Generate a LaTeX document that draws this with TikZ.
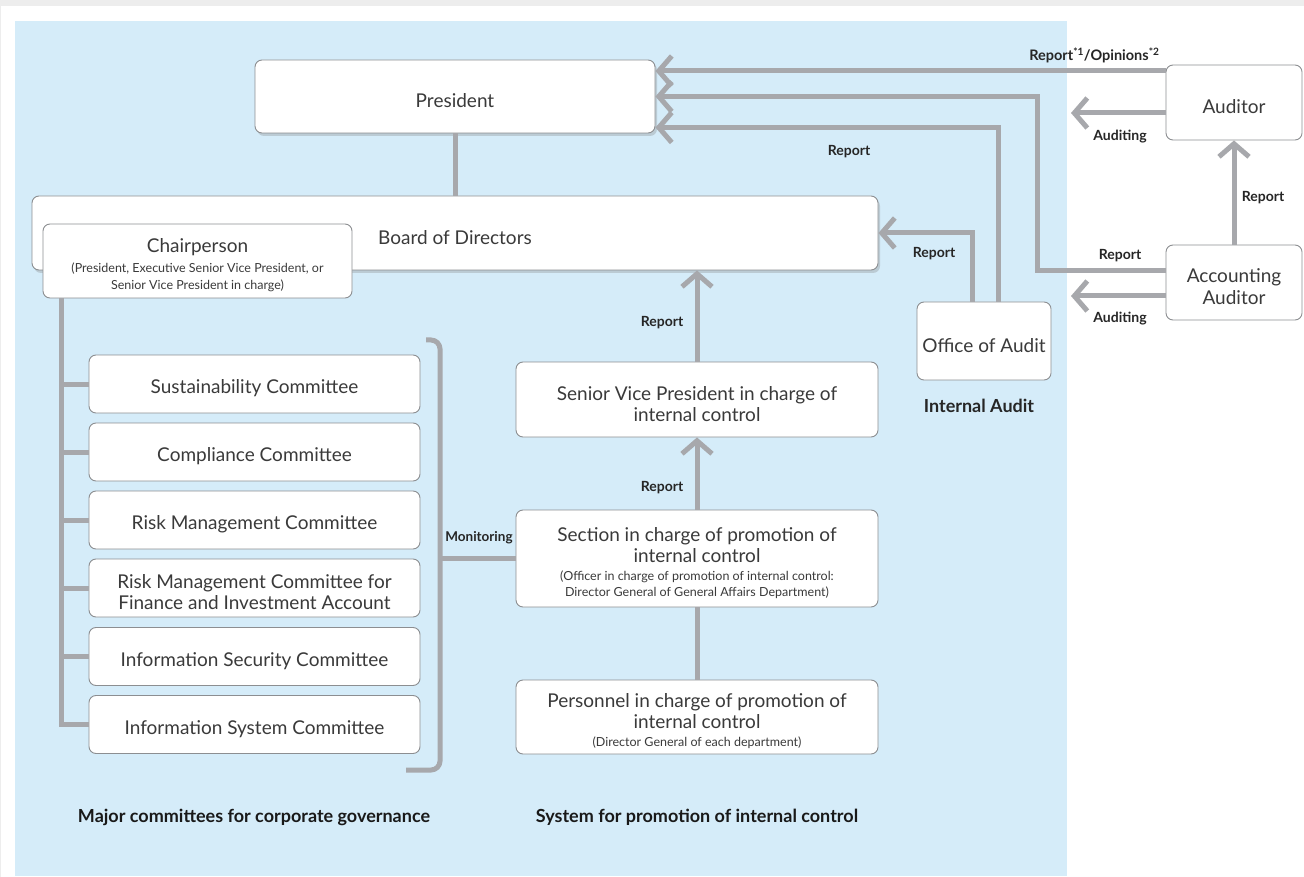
\documentclass[tikz,border=0pt]{standalone}
\usepackage{fontspec}
\setmainfont{Lato}
\usetikzlibrary{arrows.meta,shadows}
\definecolor{panelblue}{RGB}{213,236,249}
\definecolor{linkgray}{RGB}{167,168,172}
\definecolor{boxline}{RGB}{140,142,145}
\definecolor{textgray}{RGB}{58,58,58}
\tikzset{
  box/.style={draw=boxline, fill=white, rounded corners=7pt, line width=0.9pt,
    align=center, text=textgray, inner sep=0pt, font=\fontsize{19}{21}\selectfont,
    execute at begin node={\rule{0pt}{23pt}}},
  boxshadow/.style={drop shadow={opacity=0.3, shadow xshift=2pt, shadow yshift=-3pt}},
  link/.style={draw=linkgray, line width=5pt},
  arr/.style={link, -{Straight Barb[length=13pt,width=30pt]}},
  tag/.style={font=\bfseries\fontsize{14}{16}\selectfont, text=black!85},
  caption/.style={font=\bfseries\fontsize{18}{20}\selectfont, text=black!90}
}
\newcommand\smalltxt{\fontsize{12.5}{15}\selectfont}
\newcommand\up{\rule{0pt}{23pt}}
\begin{document}
\begin{tikzpicture}[x=1pt,y=-1pt]
  \useasboundingbox (0,0) rectangle (1304,877);
  % Background
  \fill[black!7] (0,0) rectangle (1304,877);
  \fill[white] (1,6) rectangle (1304,877);
  \fill[panelblue] (15,21) rectangle (1067,876);
  % Top of the hierarchy
  \node[box, boxshadow, minimum width=400pt, minimum height=73pt] (pres) at (455,96.5) {President};
  \node[box, boxshadow, minimum width=846pt, minimum height=74pt] (board) at (455,233) {Board of Directors};
  \node[box, minimum width=309pt, minimum height=74pt] (chair) at (197.5,261)
    {\up Chairperson\\[-1pt]{\smalltxt (President, Executive Senior Vice President, or}\\[-4pt]{\smalltxt Senior Vice President in charge)}};
  \draw[link] (pres.south) -- (board.north);
  % Committees
  \node[box, minimum width=331pt, minimum height=58pt] (com1) at (254.5,384) {Sustainability Committee};
  \node[box, minimum width=331pt, minimum height=58pt] (com2) at (254.5,452) {Compliance Committee};
  \node[box, minimum width=331pt, minimum height=58pt] (com3) at (254.5,520) {Risk Management Committee};
  \node[box, minimum width=331pt, minimum height=58pt] (com4) at (254.5,588) {\up Risk Management Committee for\\Finance and Investment Account};
  \node[box, minimum width=331pt, minimum height=58pt] (com5) at (254.5,656.5) {Information Security Committee};
  \node[box, minimum width=331pt, minimum height=58pt] (com6) at (254.5,724.5) {Information System Committee};
  \coordinate (spine) at ([xshift=19pt]chair.south west);
  \draw[link] (spine) |- (com6.west);
  \foreach \i in {1,...,5}
    \draw[link] (com\i.west) -- (com\i.west -| spine);
  % Bracket
  \draw[link, rounded corners=9pt] (426,340) -- (440,340) -- (440,770) -- (406,770);
  \coordinate (brk) at (440,558);
  % Internal control
  \node[box, minimum width=362pt, minimum height=75pt] (svp) at (697,399.5)
    {\up Senior Vice President in charge of\\internal control};
  \node[box, minimum width=362pt, minimum height=97pt] (sect) at (697,558.5)
    {\up Section in charge of promotion of\\internal control\\[-3pt]{\smalltxt (Officer in charge of promotion of internal control:}\\[-5pt]{\smalltxt Director General of General Affairs Department)}};
  \node[box, minimum width=362pt, minimum height=74pt] (pers) at (697,717)
    {\up Personnel in charge of promotion of\\internal control\\[-3pt]{\smalltxt (Director General of each department)}};
  \draw[link] (pers.north) -- (sect.south);
  \draw[arr] (sect.north) -- (svp.south);
  \draw[arr] (svp.north) -- (svp.north |- board.south);
  \draw[link] (sect.west) -- (sect.west -| brk);
  % Audit
  \node[box, minimum width=134pt, minimum height=78pt] (oa) at (984,341) {Office of Audit};
  \node[box, minimum width=136pt, minimum height=75pt] (aud) at (1234,102.5) {Auditor};
  \node[box, minimum width=136pt, minimum height=75pt] (acc) at (1234,282.5) {\up Accounting\\[1pt]Auditor};
  \coordinate (p1) at ([yshift=25.5pt]pres.east);
  \coordinate (p3) at ([yshift=-31pt]pres.east);
  \coordinate (ac) at (1037,0);
  \coordinate (audA) at (1071,113);
  \coordinate (accA) at (1071,296);
  \draw[arr] (p1 -| aud.west) -- (p1);
  \draw[arr] ([yshift=12pt]acc.west) -| (ac |- pres.east) -- (pres.east);
  \draw[arr] ([xshift=14pt]oa.north) |- (p3);
  \draw[arr] ([xshift=-12pt]oa.north) |- (board.east);
  \draw[arr] (aud.west |- audA) -- (audA);
  \draw[arr] (acc.west |- accA) -- (accA);
  \draw[arr] (acc.north) -- (aud.south);
  % Labels
  \node[tag, anchor=east, font=\bfseries\fontsize{14.5}{16}\selectfont] at (1163,55) {Report\textsuperscript{*1}/Opinions\textsuperscript{*2}};
  \node[tag] at (1120,137) {Auditing};
  \node[tag] at (1120,319) {Auditing};
  \node[tag] at (1120,256) {Report};
  \node[tag] at (1263,198) {Report};
  \node[tag] at (849,152) {Report};
  \node[tag] at (934,254) {Report};
  \node[tag] at (662,323) {Report};
  \node[tag] at (662,488) {Report};
  \node[tag, font=\bfseries\fontsize{13.5}{16}\selectfont] at (479,538) {Monitoring};
  \node[tag, font=\bfseries\fontsize{18}{20}\selectfont] at (979,406) {Internal Audit};
  \node[caption] at (254,817) {Major committees for corporate governance};
  \node[caption] at (697,817) {System for promotion of internal control};
\end{tikzpicture}
\end{document}
